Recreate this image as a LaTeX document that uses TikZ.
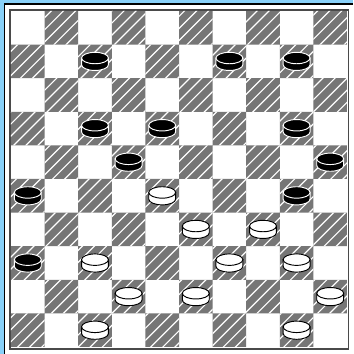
\documentclass[tikz,border=0pt]{standalone}
\usetikzlibrary{calc}
\definecolor{frameblue}{HTML}{88D0F8}
\definecolor{sqdark}{HTML}{767676}
\definecolor{rimgray}{HTML}{4A4A4A}
\tikzset{
  darksq/.style={fill=sqdark},
  stripe/.style={draw=white,line width=1pt},
  rim/.style={draw=rimgray,line width=1.3pt},
  pcbody/.style={line width=0.8pt},
  blackman/.pic={
    \path[pcbody,fill=black,draw=white] (-0.4,0.1) -- (-0.4,-0.1)
      arc[start angle=180,end angle=360,x radius=0.4,y radius=0.17] -- (0.4,0.1) -- cycle;
    \path[pcbody,fill=black,draw=white] (0,0.1) ellipse[x radius=0.4,y radius=0.17];
  },
  whiteman/.pic={
    \path[pcbody,fill=white,draw=black] (-0.4,0.1) -- (-0.4,-0.1)
      arc[start angle=180,end angle=360,x radius=0.4,y radius=0.17] -- (0.4,0.1) -- cycle;
    \path[pcbody,fill=white,draw=black] (0,0.1) ellipse[x radius=0.4,y radius=0.17];
  },
}

\begin{document}
\begin{tikzpicture}
  \useasboundingbox (-0.327,-0.208) rectangle (10.179,10.327);
  \fill[white] (-0.327,-0.208) rectangle (10.179,10.327);

  % outer frame
  \fill[frameblue] (-0.327,-0.208) rectangle (-0.208,10.327);
  \fill[frameblue] (-0.327,10.229) rectangle (10.179,10.327);
  \fill[black] (-0.208,-0.208) rectangle (-0.164,10.229);
  \fill[black] (-0.208,10.179) rectangle (10.179,10.229);
  \draw[rim] (-0.036,-0.060) rectangle (10.045,10.036);

  % dark squares
  \begin{scope}
    \clip \foreach \r in {0,...,9} {\foreach \k in {0,...,4} {
      ({2*\k+mod(\r+1,2)},{9-\r}) rectangle ++(1,1)}};
    \fill[darksq] (0,0) rectangle (10,10);
    \foreach \k in {-29,...,29}
      \draw[stripe] ({\k*0.36},-0.2) -- ++(10.6,10.6);
  \end{scope}

  % pieces
  \foreach \c/\r in {2/1,6/1,8/1,2/3,4/3,8/3,3/4,9/4,0/5,8/5,0/7}
    \pic at ({\c+0.5},{9.5-\r}) {blackman};
  \foreach \c/\r in {4/5,5/6,7/6,2/7,6/7,8/7,3/8,5/8,9/8,2/9,8/9}
    \pic at ({\c+0.5},{9.5-\r}) {whiteman};
\end{tikzpicture}
\end{document}
